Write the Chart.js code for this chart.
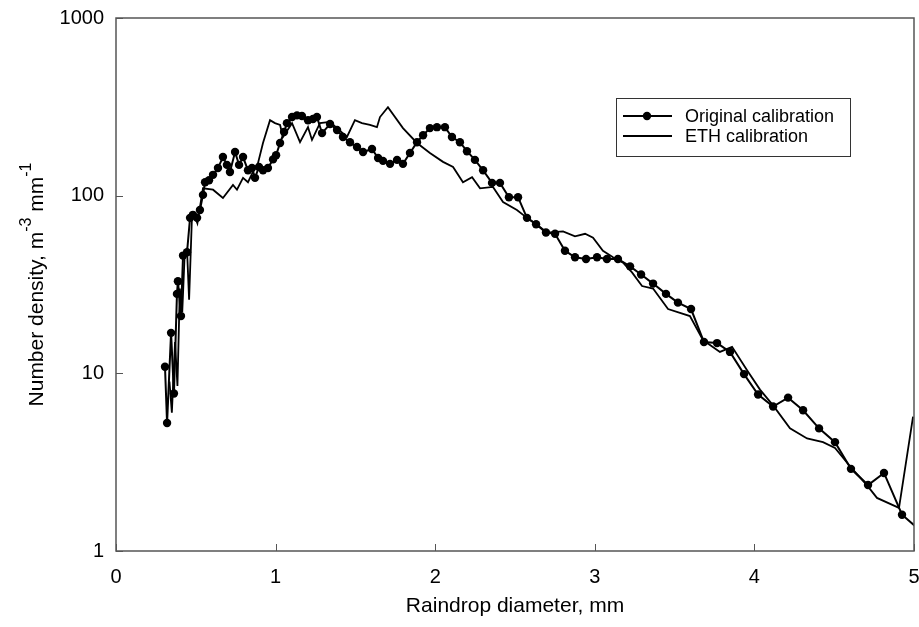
<!DOCTYPE html>
<html>
<head>
<meta charset="utf-8">
<script src="https://cdn.jsdelivr.net/npm/chart.js@4/dist/chart.umd.min.js"></script>
<style>
  html, body { margin: 0; padding: 0; background: #fff; }
  #wrap { width: 919px; height: 627px; }
</style>
</head>
<body>
<div id="wrap"><canvas id="dsdChart" width="919" height="627"></canvas></div>
<script>
// raindrop diameter (mm) and number density (m^-3 mm^-1)
const origDiam = [0.307, 0.320, 0.345, 0.363, 0.382, 0.388, 0.407, 0.420, 0.445, 0.464,
  0.482, 0.508, 0.526, 0.545, 0.558, 0.583, 0.608, 0.639, 0.670, 0.695,
  0.714, 0.746, 0.771, 0.796, 0.827, 0.852, 0.871, 0.896, 0.921, 0.952,
  0.984, 1.003, 1.028, 1.053, 1.071, 1.103, 1.134, 1.165, 1.203, 1.234,
  1.259, 1.291, 1.341, 1.385, 1.422, 1.466, 1.510, 1.548, 1.604, 1.642,
  1.673, 1.717, 1.761, 1.798, 1.842, 1.886, 1.924, 1.967, 2.011, 2.061,
  2.105, 2.155, 2.199, 2.249, 2.300, 2.356, 2.406, 2.462, 2.519, 2.575,
  2.632, 2.694, 2.751, 2.813, 2.876, 2.945, 3.014, 3.076, 3.145, 3.221,
  3.290, 3.365, 3.446, 3.521, 3.603, 3.684, 3.766, 3.847, 3.935, 4.023,
  4.117, 4.211, 4.305, 4.405, 4.505, 4.605, 4.712, 4.812, 4.925, 5.040];
const origDensity = [10.9, 5.25, 16.9, 7.7, 28, 33, 21, 46, 48, 75,
  78, 75, 83, 101, 119, 122, 131, 143, 165, 149,
  136, 176, 149, 165, 139, 143, 126, 145, 139, 143,
  160, 169, 198, 228, 256, 277, 283, 281, 266, 270,
  277, 225, 253, 234, 214, 200, 188, 176, 183, 163,
  157, 151, 159, 151, 174, 200, 219, 240, 243, 243,
  214, 200, 178, 159, 139, 118, 118, 98, 98, 75,
  69, 62, 61, 49, 45, 44, 45, 44, 44, 40,
  36, 32, 28, 25, 23, 15.0, 14.8, 13.2, 9.9, 7.6,
  6.5, 7.3, 6.2, 4.9, 4.1, 2.9, 2.35, 2.75, 1.6, 1.3];

const ethDiam = [0.335, 0.350, 0.370, 0.385, 0.400, 0.415, 0.430, 0.445, 0.458, 0.475,
  0.490, 0.510, 0.545, 0.608, 0.670, 0.733, 0.758, 0.796, 0.827, 0.858,
  0.890, 0.921, 0.965, 0.996, 1.028, 1.046, 1.103, 1.153, 1.203, 1.228,
  1.278, 1.341, 1.385, 1.447, 1.497, 1.541, 1.591, 1.635, 1.654, 1.704,
  1.798, 1.886, 1.967, 2.049, 2.112, 2.174, 2.231, 2.281, 2.362, 2.425,
  2.512, 2.575, 2.625, 2.701, 2.801, 2.876, 2.939, 2.989, 3.051, 3.114,
  3.177, 3.233, 3.296, 3.365, 3.459, 3.596, 3.678, 3.784, 3.860, 3.954,
  4.035, 4.117, 4.223, 4.330, 4.430, 4.505, 4.599, 4.705, 4.768, 4.906,
  4.994];
const ethDensity = [9.0, 6.0, 15, 8.5, 30, 22, 46, 50, 26, 72,
  78, 70, 110, 108, 97, 115, 108, 126, 119, 136,
  153, 198, 266, 256, 250, 214, 256, 200, 243, 206,
  256, 260, 240, 214, 266, 256, 250, 243, 277, 315,
  240, 198, 174, 155, 145, 119, 127, 110, 112, 92,
  83, 75, 70, 62, 63, 59, 61, 58, 49, 45,
  42, 37, 31, 30, 23, 21, 15.4, 13.2, 14.1, 10.4,
  8.1, 6.6, 4.9, 4.3, 4.1, 3.8, 3.0, 2.35, 1.99, 1.75,
  5.7];

const xTicks = [0, 1, 2, 3, 4, 5];
const yTicks = [1, 10, 100, 1000];
const seriesNames = ["Original calibration", "ETH calibration"];

const FONT = "'Liberation Sans', Arial, sans-serif";
const AXIS_COLOR = "#555";

function toPoints(xs, ys) {
  return xs.map((x, i) => ({ x: x, y: ys[i] }));
}

// frame, inward ticks, axis titles and the boxed legend
const decorations = {
  id: "decorations",
  afterDatasetsDraw(chart) {
    const ctx = chart.ctx;
    const a = chart.chartArea;
    const xs = chart.scales.x, ys = chart.scales.y;
    ctx.save();
    ctx.strokeStyle = AXIS_COLOR;
    ctx.lineWidth = 1.5;
    ctx.strokeRect(a.left, a.top, a.right - a.left, a.bottom - a.top);

    ctx.lineWidth = 1;
    xTicks.forEach(v => {
      const px = Math.round(xs.getPixelForValue(v)) + 0.5;
      ctx.beginPath(); ctx.moveTo(px, a.bottom); ctx.lineTo(px, a.bottom - 7); ctx.stroke();
    });
    yTicks.forEach(v => {
      const py = Math.round(ys.getPixelForValue(v)) + 0.5;
      ctx.beginPath(); ctx.moveTo(a.left, py); ctx.lineTo(a.left + 7, py); ctx.stroke();
    });

    // x title
    ctx.fillStyle = "#000";
    ctx.font = "21px " + FONT;
    ctx.textAlign = "center";
    ctx.textBaseline = "middle";
    ctx.fillText("Raindrop diameter, mm", (a.left + a.right) / 2, 606);

    // y title with superscripts
    const parts = [
      { t: "Number density, m", sup: false },
      { t: "-3", sup: true },
      { t: " mm", sup: false },
      { t: "-1", sup: true }
    ];
    const big = "21px " + FONT, small = "16px " + FONT;
    let total = 0;
    parts.forEach(p => { ctx.font = p.sup ? small : big; p.w = ctx.measureText(p.t).width; total += p.w; });
    ctx.translate(37, (a.top + a.bottom) / 2);
    ctx.rotate(-Math.PI / 2);
    ctx.textAlign = "left";
    ctx.textBaseline = "middle";
    let cx = -total / 2;
    parts.forEach(p => {
      ctx.font = p.sup ? small : big;
      ctx.fillText(p.t, cx, p.sup ? -10 : 0);
      cx += p.w;
    });
    ctx.restore();

    // legend box
    ctx.save();
    const bx = a.right - 298, by = a.top + 80, bw = 234, bh = 58;
    ctx.fillStyle = "#fff";
    ctx.fillRect(bx, by, bw, bh);
    ctx.strokeStyle = "#333";
    ctx.lineWidth = 1;
    ctx.strokeRect(bx + 0.5, by + 0.5, bw, bh);
    ctx.font = "18px " + FONT;
    ctx.textBaseline = "middle";
    ctx.textAlign = "left";
    chart.data.datasets.forEach((ds, i) => {
      const ly = by + 18 + i * 20;
      ctx.strokeStyle = "#000";
      ctx.lineWidth = ds.borderWidth;
      ctx.beginPath(); ctx.moveTo(bx + 7, ly); ctx.lineTo(bx + 56, ly); ctx.stroke();
      if (ds.pointRadius > 0) {
        ctx.fillStyle = "#000";
        ctx.beginPath(); ctx.arc(bx + 31, ly, ds.pointRadius, 0, Math.PI * 2); ctx.fill();
      }
      ctx.fillStyle = "#000";
      ctx.fillText(ds.label, bx + 69, ly + 1);
    });
    ctx.restore();
  }
};

new Chart(document.getElementById("dsdChart"), {
  type: "scatter",
  data: {
    datasets: [
      {
        label: seriesNames[0],
        data: toPoints(origDiam, origDensity),
        showLine: true,
        borderColor: "#000",
        backgroundColor: "#000",
        borderWidth: 2,
        pointRadius: 4.2,
        pointHoverRadius: 4.2,
        pointBorderWidth: 0
      },
      {
        label: seriesNames[1],
        data: toPoints(ethDiam, ethDensity),
        showLine: true,
        borderColor: "#000",
        backgroundColor: "#000",
        borderWidth: 1.8,
        pointRadius: 0,
        pointHoverRadius: 0
      }
    ]
  },
  options: {
    responsive: false,
    animation: false,
    events: [],
    layout: { padding: { top: 18, right: 5, left: 0, bottom: 0 } },
    plugins: { legend: { display: false }, tooltip: { enabled: false } },
    scales: {
      x: {
        type: "linear",
        min: 0, max: 5,
        afterBuildTicks: s => { s.ticks = xTicks.map(v => ({ value: v })); },
        afterFit: s => { s.height = 76; s.paddingLeft = 0; s.paddingRight = 0; },
        grid: { display: false },
        border: { display: false },
        ticks: { color: "#000", padding: 6, maxRotation: 0, font: { family: FONT, size: 20 }, callback: v => String(v) }
      },
      y: {
        type: "logarithmic",
        min: 1, max: 1000,
        afterBuildTicks: s => { s.ticks = yTicks.map(v => ({ value: v })); },
        afterFit: s => { s.width = 116; s.paddingTop = 0; s.paddingBottom = 0; },
        grid: { display: false },
        border: { display: false },
        ticks: { color: "#000", padding: 4, font: { family: FONT, size: 20 }, callback: v => String(v) }
      }
    }
  },
  plugins: [decorations]
});
</script>
</body>
</html>
